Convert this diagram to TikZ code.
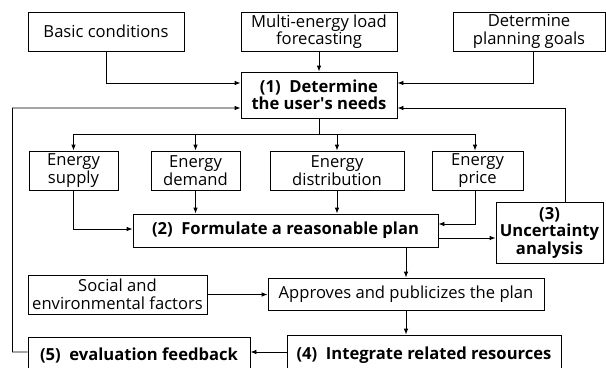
\documentclass[tikz,border=0pt]{standalone}
\usepackage{fontspec}
\setmainfont{Open Sans}
\usetikzlibrary{arrows.meta}
\begin{document}
\begin{tikzpicture}[x=1bp,y=-1bp,
  box/.style={draw, line width=0.8bp, inner sep=0pt, align=center,
    font=\fontsize{16.6bp}{17.5bp}\selectfont},
  boldbox/.style={box, font=\fontsize{16.6bp}{17.5bp}\selectfont\bfseries},
  arr/.style={line width=0.8bp, -{Latex[length=6bp,width=4.5bp]}},
  ln/.style={line width=0.8bp}]
\clip (0,0) rectangle (606,367);
\fill[white] (0,0) rectangle (606,367);
% nodes
\node[box, minimum width=156bp, minimum height=39bp] (basic) at (106,31.5) {Basic conditions};
\node[box, minimum width=156bp, minimum height=39bp] (multi) at (319,31.5) {Multi-energy load\\forecasting};
\node[box, minimum width=152bp, minimum height=39bp] (goals) at (529,31.5) {Determine\\planning goals};
\node[boldbox, minimum width=156bp, minimum height=46bp] (needs) at (319,95) {(1)\ \ Determine\\the user\textquotesingle s needs};
\node[box, minimum width=89bp, minimum height=39bp] (supply) at (73.5,170.5) {Energy\\supply};
\node[box, minimum width=89bp, minimum height=39bp] (demand) at (195.5,170.5) {Energy\\demand};
\node[box, minimum width=134bp, minimum height=39bp] (distrib) at (337,170.5) {Energy\\distribution};
\node[box, minimum width=91bp, minimum height=39bp] (price) at (477.5,170.5) {Energy\\price};
\node[boldbox, minimum width=305bp, minimum height=33bp] (plan) at (285.5,230.5) {(2)\ \ Formulate a reasonable plan};
\node[boldbox, minimum width=107bp, minimum height=61bp] (unc) at (549.5,232.5) {(3)\\Uncertainty\\analysis};
\node[box, minimum width=179bp, minimum height=39bp] (social) at (117.5,294.5) {Social and\\environmental factors};
\node[box, minimum width=276bp, minimum height=32bp] (approve) at (406,294) {Approves and publicizes the plan};
\node[boldbox, minimum width=274bp, minimum height=40bp] (integ) at (424,355) {(4)\ \ Integrate related resources};
\node[boldbox, minimum width=222bp, minimum height=36bp] (feedback) at (139,355) {(5)\ \ evaluation feedback};
% connectors
\draw[arr] (basic.south) |- ([yshift=12bp]needs.west);
\draw[arr] (multi.south) -- (needs.north);
\draw[arr] ([xshift=4bp]goals.south) |- ([yshift=12bp]needs.east);
\draw[arr] ([xshift=15.5bp]unc.north) |- ([yshift=-13bp]needs.east);
\coordinate (ytree) at (0,134);
\coordinate (split) at (needs.south |- ytree);
\draw[ln] (needs.south) -- (split);
\draw[arr] (split) -| (supply.north);
\draw[arr] (split) -| (demand.north);
\draw[arr] (split) -| (distrib.north);
\draw[arr] (split) -| ([xshift=-2.5bp]price.north);
\draw[arr] (supply.south) |- ([yshift=1.5bp]plan.west);
\draw[arr] (demand.south) -- (demand.south |- plan.north);
\draw[arr] (distrib.south) -- (distrib.south |- plan.north);
\draw[arr] ([xshift=-2.5bp]price.south) |- ([yshift=6.5bp]plan.east);
\draw[arr] ([yshift=-7.5bp]plan.east) -- ([yshift=-7.5bp]plan.east -| unc.west);
\draw[arr] (approve.north |- plan.south) -- (approve.north);
\draw[arr] (social.east) -- (social.east -| approve.west);
\draw[arr] (approve.south) -- (approve.south |- integ.north);
\draw[arr] ([yshift=3bp]integ.west) -- ([yshift=3bp]feedback.east);
\coordinate (leftcol) at (12.5,352);
\draw[arr] ([yshift=3bp]feedback.west) -- (leftcol) |- ([yshift=-13bp]needs.west);
\end{tikzpicture}
\end{document}
